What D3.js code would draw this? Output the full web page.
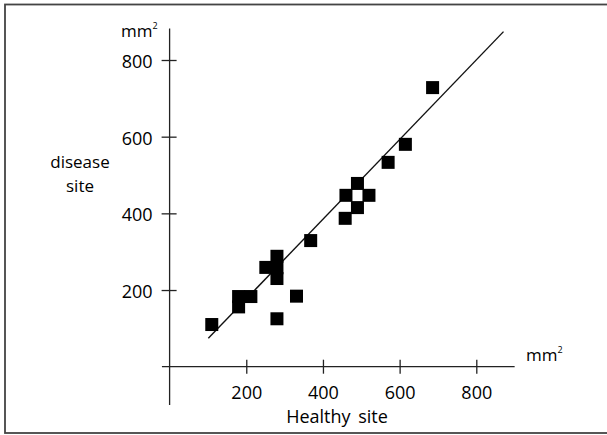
<!DOCTYPE html>
<html>
<head>
<meta charset="utf-8">
<script src="https://cdn.jsdelivr.net/npm/d3@7"></script>
<style>
  body { margin: 0; background: #fff; }
  svg text { font-family: "Open Sans", sans-serif; fill: #000; }
</style>
</head>
<body>
<div id="chart"></div>
<script>
// healthy site (x) vs disease site (y), both in mm2
var healthy = [110, 180, 180, 212, 251, 280, 280, 280, 331, 280, 368, 460, 490, 520, 490, 458, 570, 615, 686];
var disease = [110, 183, 156, 183, 259, 288, 258, 230, 184, 125, 329, 447, 478, 447, 415, 387, 533, 580, 728];
var ticks = [200, 400, 600, 800];
// fitted line, two ends
var fitX = [101, 871];
var fitY = [74, 874];

var width = 607, height = 435;

var x = d3.scaleLinear().domain([0, 800]).range([169.6, 476.3]);
var y = d3.scaleLinear().domain([0, 800]).range([366.7, 60]);

var svg = d3.select("#chart").append("svg")
  .attr("width", width)
  .attr("height", height);

// frame
svg.append("rect")
  .attr("x", 5).attr("y", 4.5)
  .attr("width", 606).attr("height", 428.5)
  .style("fill", "none")
  .style("stroke", "#444")
  .style("stroke-width", 1.8);

// axis lines (extend past the ticks)
svg.append("line")
  .attr("x1", x(-20)).attr("x2", x(900))
  .attr("y1", y(0)).attr("y2", y(0))
  .style("stroke", "#222").style("stroke-width", 1.3);
svg.append("line")
  .attr("x1", x(0)).attr("x2", x(0))
  .attr("y1", y(-100)).attr("y2", y(882))
  .style("stroke", "#222").style("stroke-width", 1.3);

// x axis ticks
var xAxis = svg.append("g")
  .attr("transform", "translate(0," + y(0) + ")")
  .call(d3.axisBottom(x).tickValues(ticks).tickSize(7).tickPadding(13));
xAxis.select(".domain").remove();
xAxis.selectAll(".tick line").attr("y1", -7).style("stroke", "#222").style("stroke-width", 1.3);
xAxis.selectAll(".tick text")
  .style("font-family", "'Open Sans', sans-serif")
  .style("font-size", "18px")
  .style("fill", "#000");

// y axis ticks
var yAxis = svg.append("g")
  .attr("transform", "translate(" + x(0) + ",0)")
  .call(d3.axisLeft(y).tickValues(ticks).tickSize(8).tickPadding(9));
yAxis.select(".domain").remove();
yAxis.selectAll(".tick line").attr("x1", 7).style("stroke", "#222").style("stroke-width", 1.3);
yAxis.selectAll(".tick text")
  .attr("dy", "0.42em")
  .style("font-family", "'Open Sans', sans-serif")
  .style("font-size", "18px")
  .style("fill", "#000");

// fitted line
svg.append("line")
  .attr("x1", x(fitX[0])).attr("y1", y(fitY[0]))
  .attr("x2", x(fitX[1])).attr("y2", y(fitY[1]))
  .style("stroke", "#111").style("stroke-width", 1.4);

// points
var s = 13;
svg.selectAll("rect.pt")
  .data(healthy)
  .enter().append("rect")
  .attr("class", "pt")
  .attr("x", function (d) { return x(d) - s / 2; })
  .attr("y", function (d, i) { return y(disease[i]) - s / 2; })
  .attr("width", s).attr("height", s)
  .style("fill", "#000");

// unit labels
function unit(px, py) {
  var t = svg.append("text").attr("x", px).attr("y", py).style("font-size", "17px");
  t.append("tspan").text("mm");
  t.append("tspan").attr("dy", -8).style("font-size", "9px").text("2");
}
unit(121, 37);
unit(526, 361);

// axis titles
svg.append("text")
  .attr("x", 80).attr("y", 168)
  .attr("text-anchor", "middle")
  .style("font-size", "17px")
  .text("disease");
svg.append("text")
  .attr("x", 80).attr("y", 192)
  .attr("text-anchor", "middle")
  .style("font-size", "17px")
  .text("site");
svg.append("text")
  .attr("x", 337).attr("y", 423)
  .attr("text-anchor", "middle")
  .style("font-size", "18px")
  .style("word-spacing", "3px")
  .text("Healthy site");
</script>
</body>
</html>
